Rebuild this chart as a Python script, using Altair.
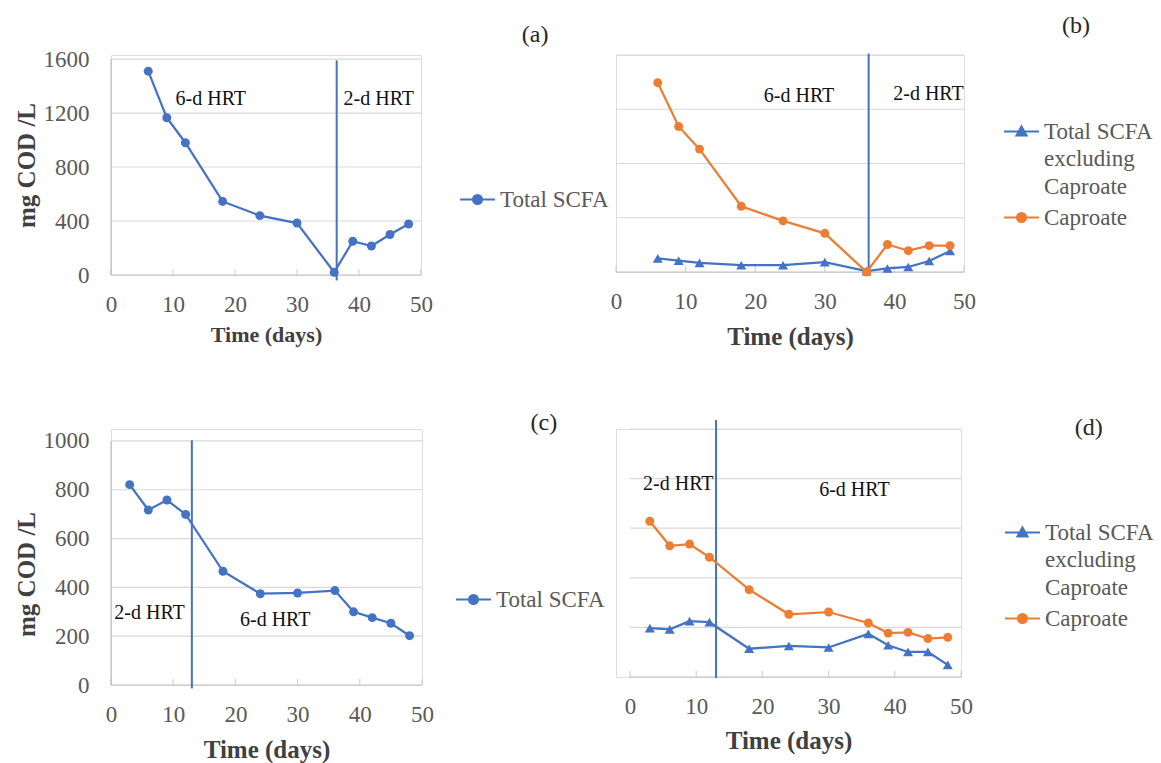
import altair as alt
import pandas as pd

FONT = "Liberation Serif"
BLUE = "#4472C4"
ORANGE = "#ED7D31"
GRID = "#d9d9d9"
AXIS = "#bfbfbf"
LABEL = "#595959"
TITLE = "#404040"

# ---------------- data ----------------
TOTAL = "Total SCFA"
EXCL = "Total SCFA excluding Caproate"
CAP = "Caproate"

days_ab = [6, 9, 12, 18, 24, 30, 36, 39, 42, 45, 48]
total_a = [1510, 1165, 980, 545, 440, 385, 20, 250, 215, 300, 378]
excl_b = [100, 83, 67, 50, 50, 73, 7, 26, 37, 81, 155]
caproate_b = [1396, 1073, 906, 485, 377, 285, 0, 203, 157, 194, 194]

days_cd = [3, 6, 9, 12, 18, 24, 30, 36, 39, 42, 45, 48]
total_c = [821, 717, 758, 699, 466, 374, 377, 387, 300, 276, 253, 202]
excl_d = [197, 192, 225, 221, 114, 125, 119, 174, 128, 101, 101, 49]
caproate_d = [628, 529, 536, 483, 352, 253, 262, 218, 177, 180, 155, 160]

x_ticks = [0, 10, 20, 30, 40, 50]
y_labels_ab = [0, 400, 800, 1200, 1600]
y_labels_cd = [0, 200, 400, 600, 800, 1000]
grid_ab = [400, 800, 1200, 1600]
grid_cd = [200, 400, 600, 800, 1000]

# HRT switch lines: day, lower, upper
hrt_a = [36.4, -40, 1590]
hrt_b = [36.3, -5, 1610]
hrt_c = [13, -14, 1003]
hrt_d = [13, -4, 1036]

notes_a = [("6-d HRT", 16.1, 1301), ("2-d HRT", 43.2, 1301)]
notes_b = [("6-d HRT", 26.3, 1298), ("2-d HRT", 44.9, 1310)]
notes_c = [("2-d HRT", 6.2, 294), ("6-d HRT", 26.4, 266)]
notes_d = [("2-d HRT", 7.3, 779), ("6-d HRT", 33.9, 753)]

tag_a = ("(a)", 68.4, 1778)
tag_b = ("(b)", 66.1, 1814)
tag_c = ("(c)", 69.6, 1074)
tag_d = ("(d)", 69.3, 1004)

COLORS = {TOTAL: BLUE, EXCL: BLUE, CAP: ORANGE}
SHAPES = {TOTAL: ("circle", 80), EXCL: ("triangle-up", 100), CAP: ("circle", 80)}

LINE_CIRCLE = ("M-1,-0.4H1M-0.26,-0.4A0.26,0.26,0,1,1,0.26,-0.4"
               "A0.26,0.26,0,1,1,-0.26,-0.4Z")
LINE_TRI = "M-1,-0.4H1M0,-0.69L0.29,-0.17L-0.29,-0.17Z"


def long_df(days, series):
    rows = []
    for name, vals in series:
        for d, v in zip(days, vals):
            rows.append({"day": d, "value": v, "series": name})
    return pd.DataFrame(rows)


def panel(days, series, x_dom, y_dom, w, h, grid_vals, y_label_vals, y_top,
          hrt, notes, tag, legend_xy, xt_size, show_y, y_title_y=None,
          x_title_pad=10):
    df = long_df(days, series)
    names = [s[0] for s in series]

    x_axis = alt.Axis(values=x_ticks, title="Time (days)", titleFont=FONT,
                      titleFontSize=xt_size, titleFontWeight="bold", titleColor=TITLE,
                      titlePadding=x_title_pad, labelFont=FONT, labelFontSize=23,
                      labelColor=LABEL, labelPadding=18, labelFlush=False,
                      labelOverlap=False, domain=False, ticks=False, tickSize=0,
                      grid=False, format="d")
    x_enc = alt.X("day:Q", scale=alt.Scale(domain=x_dom, nice=False, zero=False),
                  axis=x_axis)
    if show_y:
        ykw = dict(values=y_label_vals, title="mg COD /L", titleFont=FONT,
                   titleFontSize=25, titleFontWeight="bold", titleColor=TITLE,
                   titlePadding=4, labelFont=FONT, labelFontSize=23,
                   labelColor=LABEL, labelPadding=22, labelOverlap=False,
                   labelFlush=False, domain=False, ticks=False, tickSize=0,
                   grid=False, format="d")
        if y_title_y is not None:
            ykw["titleY"] = y_title_y
        y_enc = alt.Y("value:Q", scale=alt.Scale(domain=y_dom, nice=False),
                      axis=alt.Axis(**ykw))
    else:
        y_enc = alt.Y("value:Q", scale=alt.Scale(domain=y_dom, nice=False),
                      axis=None)

    layers = []
    # gridlines
    gdf = pd.DataFrame({"value": grid_vals, "day": [x_ticks[0]] * len(grid_vals),
                        "day2": [x_ticks[-1]] * len(grid_vals)})
    layers.append(alt.Chart(gdf).mark_rule(color=GRID, strokeWidth=1.2).encode(
        x=x_enc, x2="day2:Q", y=y_enc))
    # axis lines
    arows = [{"day": x_ticks[0], "day2": x_ticks[-1], "value": 0, "value2": 0}]
    if show_y:
        arows.append({"day": x_ticks[0], "day2": x_ticks[0], "value": 0, "value2": y_top})
    adf = pd.DataFrame(arows)
    layers.append(alt.Chart(adf).mark_rule(color=AXIS, strokeWidth=1.2).encode(
        x=x_enc, x2="day2:Q", y=y_enc, y2="value2:Q"))
    # inward tick marks on the x axis
    tdf = pd.DataFrame({"day": x_ticks, "value": [0] * len(x_ticks)})
    layers.append(alt.Chart(tdf).mark_tick(orient="vertical", size=6, thickness=1.2,
                                           yOffset=-3, color=AXIS).encode(x=x_enc, y=y_enc))
    # HRT switch line
    hdf = pd.DataFrame({"day": [hrt[0]], "value": [hrt[1]], "value2": [hrt[2]]})
    layers.append(alt.Chart(hdf).mark_rule(color=BLUE, strokeWidth=2).encode(
        x=x_enc, y=y_enc, y2="value2:Q"))

    # legend definition
    if len(names) == 1:
        shape_sig = f"'{LINE_CIRCLE}'"
        col_sig = f"'{BLUE}'"
    else:
        shape_sig = f"datum.value === '{EXCL}' ? '{LINE_TRI}' : '{LINE_CIRCLE}'"
        col_sig = f"datum.value === '{CAP}' ? '{ORANGE}' : '{BLUE}'"
    legend = alt.Legend(
        orient="none", legendX=legend_xy[0], legendY=legend_xy[1], title=None,
        symbolSize=1225, symbolType={"expr": shape_sig},
        symbolFillColor={"expr": col_sig}, symbolStrokeColor={"expr": col_sig},
        symbolStrokeWidth=2, symbolOpacity=1,
        labelFont=FONT, labelFontSize=23, labelColor=LABEL, labelBaseline="alphabetic",
        labelOffset=4, labelLimit=400, rowPadding=7, padding=0,
        labelExpr=f"datum.label === '{EXCL}' ? ['Total SCFA', 'excluding', 'Caproate'] : datum.label",
    )
    color = alt.Color("series:N",
                      scale=alt.Scale(domain=names, range=[COLORS[n] for n in names]),
                      legend=legend)
    layers.append(alt.Chart(df).mark_line(strokeWidth=2.25).encode(
        x=x_enc, y=y_enc, color=color, detail="series:N"))
    for name in names:
        shp, sz = SHAPES[name]
        layers.append(alt.Chart(df[df["series"] == name]).mark_point(
            filled=True, opacity=1, shape=shp, size=sz, color=COLORS[name]).encode(
            x=x_enc, y=y_enc))

    ndf = pd.DataFrame({"text": [n[0] for n in notes], "day": [n[1] for n in notes],
                        "value": [n[2] for n in notes]})
    layers.append(alt.Chart(ndf).mark_text(font=FONT, fontSize=20, color="#111111").encode(
        x=x_enc, y=y_enc, text="text:N"))
    tgdf = pd.DataFrame({"text": [tag[0]], "day": [tag[1]], "value": [tag[2]]})
    layers.append(alt.Chart(tgdf).mark_text(font=FONT, fontSize=24, color="#262626").encode(
        x=x_enc, y=y_enc, text="text:N"))

    return alt.layer(*layers).properties(width=w, height=h)


pa = panel(days_ab, [(TOTAL, total_a)], [0, 50], [0, 1630], 310, 220, grid_ab,
           y_labels_ab, 1600, hrt_a, notes_a, tag_a, (348, 133), 22, True,
           x_title_pad=8)
pb = panel(days_ab, [(EXCL, excl_b), (CAP, caproate_b)], [0, 50], [0, 1600], 348, 217,
           grid_ab, y_labels_ab, 1600, hrt_b, notes_b, tag_b, (387, 65), 25, False,
           x_title_pad=11)
pc = panel(days_cd, [(TOTAL, total_c)], [0, 50], [0, 1049], 311, 256, grid_cd,
           y_labels_cd, 1000, hrt_c, notes_c, tag_c, (344, 159), 25, True,
           y_title_y=145, x_title_pad=11)
pd_ = panel(days_cd, [(EXCL, excl_d), (CAP, caproate_d)], [-2.11, 50], [0, 1000], 345, 248,
            grid_cd, y_labels_cd, 1000, hrt_d, notes_d, tag_d, (388, 92), 25, False,
            x_title_pad=10)

chart = alt.concat(
    pa, pb, pc, pd_, columns=2,
    spacing={"row": 154, "column": 194},
    align={"row": "each", "column": "none"},
    bounds="flush",
).resolve_scale(
    color="independent"
).resolve_legend(
    color="independent"
).properties(
    padding={"left": 13, "top": 13, "right": 0, "bottom": 0}
).configure_view(stroke=None).configure_axis(
    labelFont=FONT, titleFont=FONT
).configure_legend(
    labelFont=FONT
).configure_text(
    font=FONT
).configure(
    style={"guide-label": {"lineHeight": 27.5, "font": FONT},
           "guide-title": {"font": FONT}}
)

chart.save("out.html", embed_options={"renderer": "svg", "actions": False})
